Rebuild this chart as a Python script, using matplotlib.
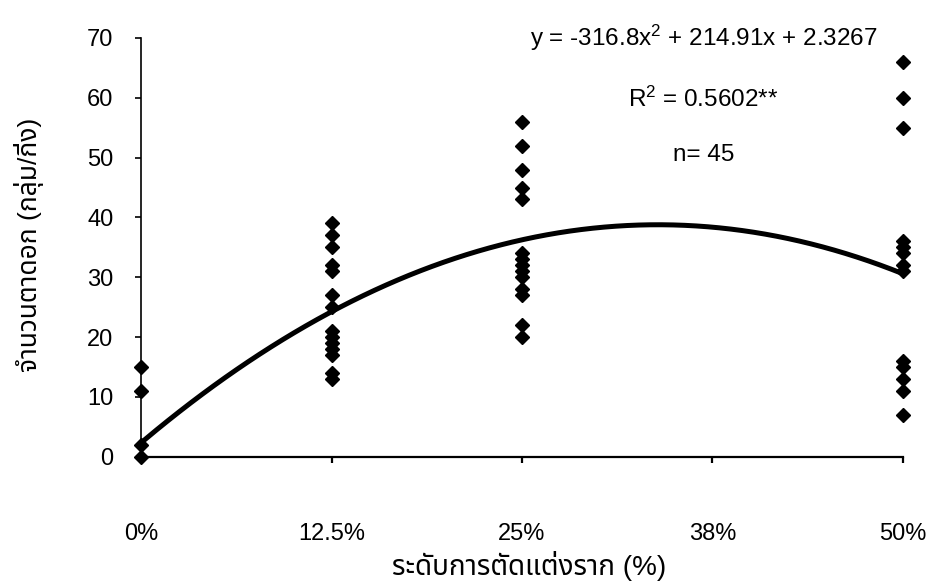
import numpy as np
import matplotlib
matplotlib.use("Agg")
import matplotlib.pyplot as plt

plt.rcParams["font.family"] = ["Liberation Sans", "Noto Sans Thai", "Loma", "Garuda", "DejaVu Sans"]
plt.rcParams["mathtext.fontset"] = "custom"
plt.rcParams["mathtext.rm"] = "Liberation Sans"
plt.rcParams["mathtext.it"] = "Liberation Sans"

# root pruning level (fraction) and flower clusters per branch
x_0 = [0.0] * 4
y_0 = [15, 11, 2, 0]
x_125 = [0.125] * 14
y_125 = [39, 37, 35, 32, 31, 27, 25, 21, 20, 19, 18, 17, 14, 13]
x_25 = [0.25] * 14
y_25 = [56, 52, 48, 45, 43, 34, 33, 32, 31, 30, 28, 27, 22, 20]
x_50 = [0.5] * 13
y_50 = [66, 60, 55, 36, 35, 34, 32, 31, 16, 15, 13, 11, 7]

tick_pos = [0, 0.125, 0.25, 0.375, 0.5]
tick_labels = ["0%", "12.5%", "25%", "38%", "50%"]

# quadratic fit coefficients
a, b, c = -316.8, 214.91, 2.3267

fig = plt.figure(figsize=(9.28, 5.84), dpi=100)
ax = fig.add_axes([0.152, 0.218, 0.821, 0.717])

xs = x_0 + x_125 + x_25 + x_50
ys = y_0 + y_125 + y_25 + y_50
ax.plot(xs, ys, linestyle="none", marker="D", markersize=7.5,
        color="black", clip_on=False, zorder=3)

xc = np.linspace(0, 0.5, 200)
ax.plot(xc, a * xc ** 2 + b * xc + c, color="black", linewidth=3.6,
        clip_on=False, zorder=4)

ax.set_xlim(0, 0.5)
ax.set_ylim(0, 70)
ax.set_yticks(range(0, 71, 10))
ax.set_xticks(tick_pos)
ax.set_xticklabels(tick_labels)

for side in ["top", "right"]:
    ax.spines[side].set_visible(False)
ax.spines["left"].set_linewidth(1.2)
ax.spines["bottom"].set_linewidth(1.6)
ax.tick_params(axis="y", direction="out", length=4, width=1.2, pad=16, labelsize=17)
ax.tick_params(axis="x", direction="out", length=4, width=1.6, pad=44, labelsize=17)

ax.set_ylabel("จำนวนตาดอก (กลุ่ม/กิ่ง)", fontsize=19)
ax.yaxis.label.set_va("center")
ax.yaxis.set_label_coords(-0.147, 0.505)
ax.set_xlabel("ระดับการตัดแต่งราก (%)", fontsize=20)
ax.xaxis.label.set_va("center")
ax.xaxis.set_label_coords(0.509, -0.262)

ax.text(0.369, 70, r"y = -316.8x$^{2}$ + 214.91x + 2.3267", fontsize=17.5,
        ha="center", va="center")
ax.text(0.369, 59.7, r"R$^{2}$ = 0.5602**", fontsize=17.5, ha="center", va="center")
ax.text(0.369, 50.5, "n= 45", fontsize=17.5, ha="center", va="center")

fig.savefig("out.png", dpi=100)
